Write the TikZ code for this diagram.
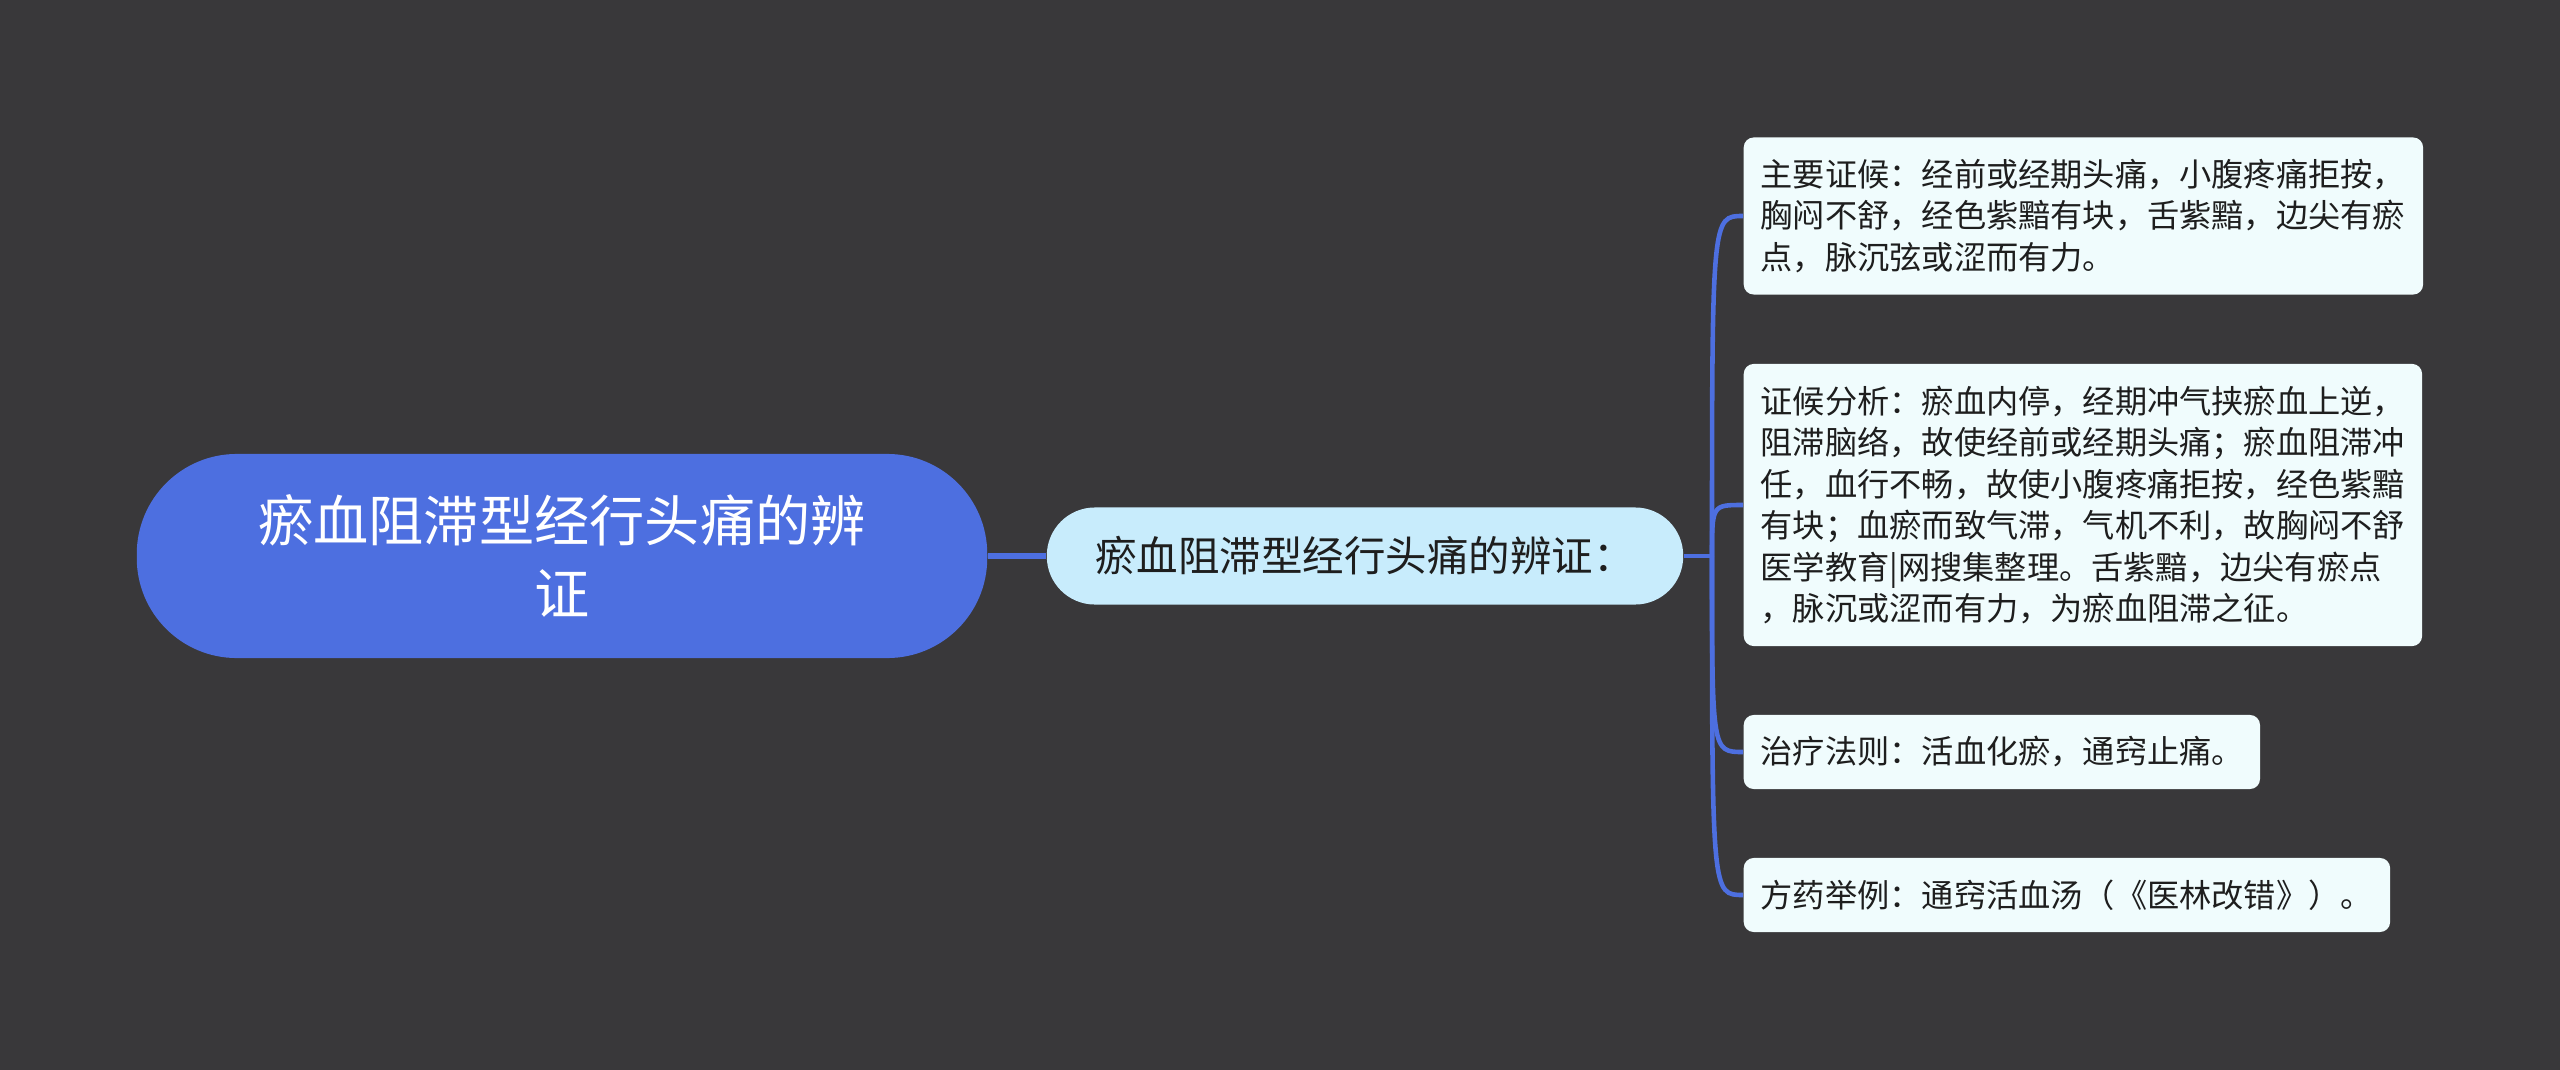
\documentclass[tikz,border=0pt]{standalone}
\usepackage{fontspec}
\setmainfont{Noto Sans CJK SC}
\definecolor{bg}{HTML}{39383A}
\definecolor{rootc}{HTML}{4D6FE0}
\definecolor{midc}{HTML}{C8ECFC}
\definecolor{boxc}{HTML}{F0FCFD}
\definecolor{linec}{HTML}{4D6FE0}
\definecolor{txt}{HTML}{1E1E1E}
\begin{document}
\begin{tikzpicture}[x=0.01cm,y=-0.01cm,
  rootbox/.style={fill=rootc,rounded corners=1.0cm,minimum width=8.5cm,minimum height=2.04cm,
    inner sep=0pt,align=center,text=white,font=\fontsize{15.7pt}{20.7pt}\selectfont},
  midbox/.style={fill=midc,rounded corners=0.48cm,minimum width=6.36cm,minimum height=0.97cm,
    inner sep=0pt,align=center,text=txt,font=\fontsize{11.8pt}{14pt}\selectfont},
  leafbox/.style={fill=boxc,rounded corners=0.1cm,inner xsep=0.17cm,inner ysep=0pt,
    align=left,text=txt,font=\fontsize{9.16pt}{11.77pt}\selectfont,anchor=west},
  conn/.style={draw=linec,line width=1.3pt},
  rootconn/.style={draw=linec,line width=1.7pt}]
\useasboundingbox (0,0) rectangle (2560,1070);
\fill[bg] (0,0) rectangle (2560,1070);

\node[rootbox] (root) at (562,556) {瘀血阻滞型经行头痛的辨\\证};
\node[midbox] (mid) at (1365,556) {瘀血阻滞型经行头痛的辨证：};

\node[leafbox,minimum width=6.79cm,minimum height=1.57cm,text width=6.45cm] (b1) at (1743,216)
  {主要证候：经前或经期头痛，小腹疼痛拒按，\\胸闷不舒，经色紫黯有块，舌紫黯，边尖有瘀\\点，脉沉弦或涩而有力。};
\node[leafbox,minimum width=6.78cm,minimum height=2.82cm,text width=6.44cm] (b2) at (1743,505)
  {证候分析：瘀血内停，经期冲气挟瘀血上逆，\\阻滞脑络，故使经前或经期头痛；瘀血阻滞冲\\任，血行不畅，故使小腹疼痛拒按，经色紫黯\\有块；血瘀而致气滞，气机不利，故胸闷不舒\\医学教育|网搜集整理。舌紫黯，边尖有瘀点\\，脉沉或涩而有力，为瘀血阻滞之征。};
\node[leafbox,minimum width=5.16cm,minimum height=0.74cm,text width=4.82cm] (b3) at (1743,752)
  {治疗法则：活血化瘀，通窍止痛。};
\node[leafbox,minimum width=6.46cm,minimum height=0.74cm,text width=6.12cm] (b4) at (1743,895)
  {方药举例：通窍活血汤（《医林改错》）。};

\coordinate (t) at (1712,556);
\draw[rootconn] (root.east) -- (mid.west);
\draw[conn] (mid.east) -- (t);
\draw[conn] (t) .. controls (t |- b1.west) .. (b1.west);
\draw[conn] (t) .. controls (t |- b2.west) .. (b2.west);
\draw[conn] (t) .. controls (t |- b3.west) .. (b3.west);
\draw[conn] (t) .. controls (t |- b4.west) .. (b4.west);
\end{tikzpicture}
\end{document}
